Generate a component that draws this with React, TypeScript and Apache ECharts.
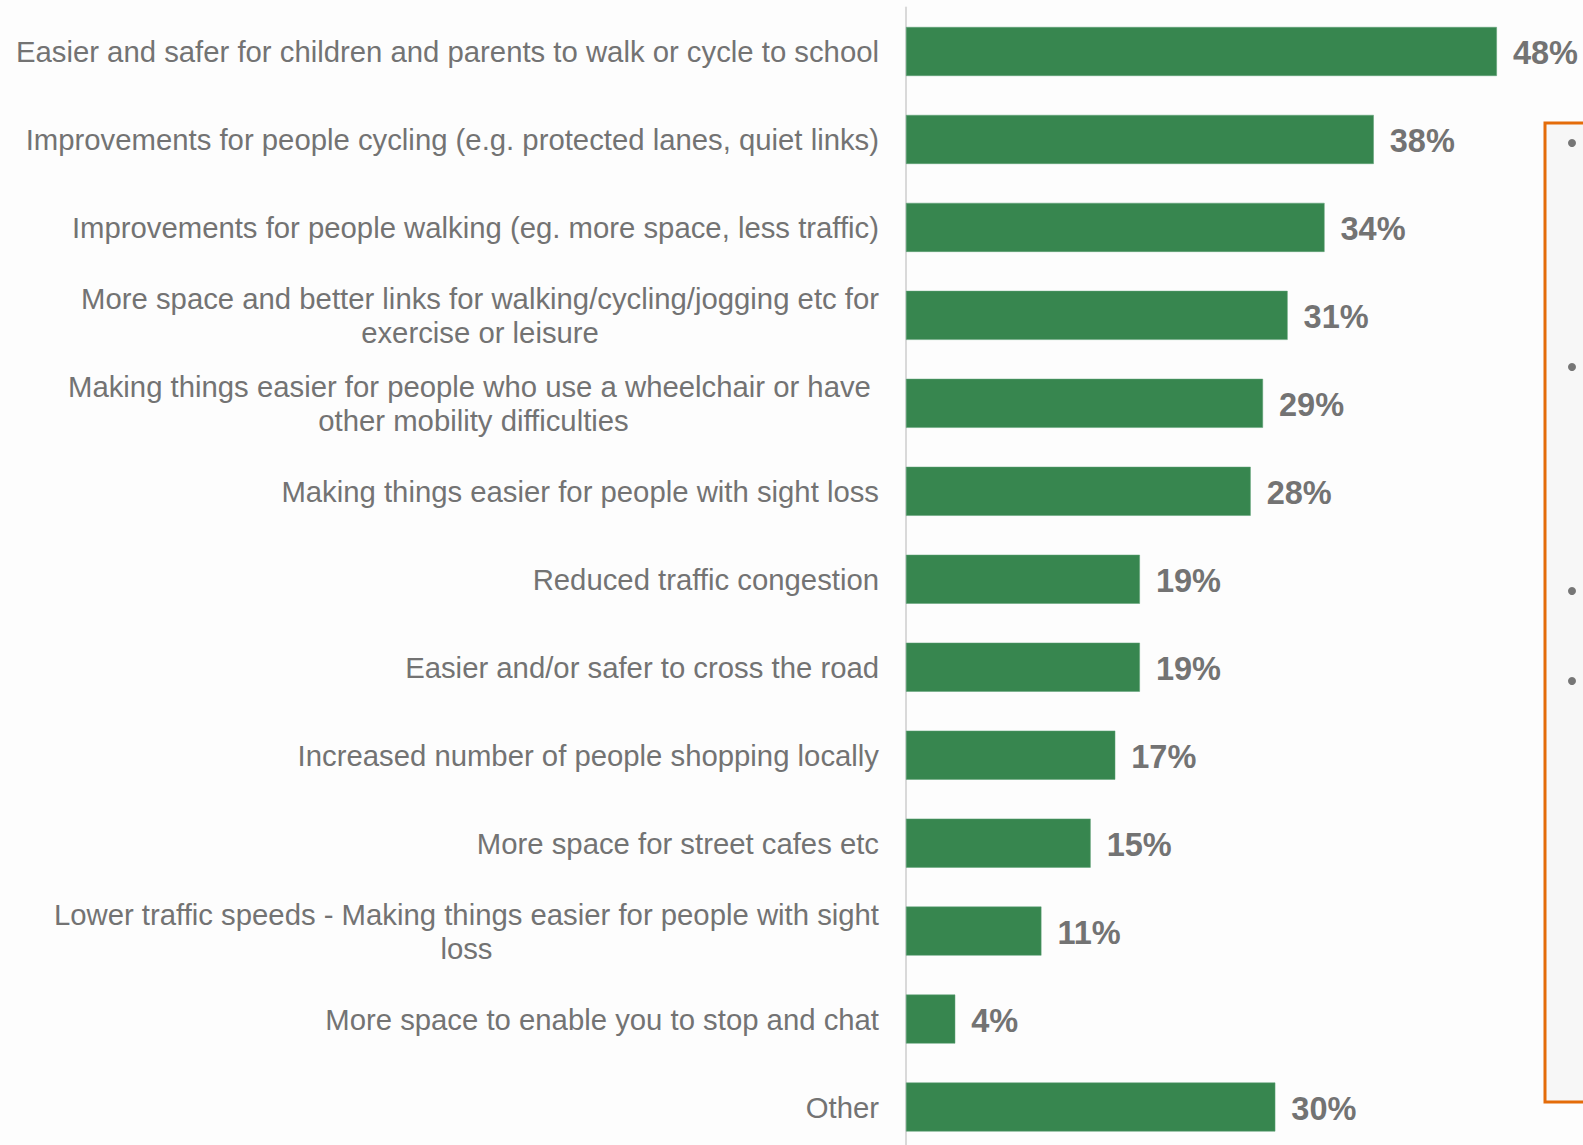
import React, { useEffect, useRef } from "react";
import * as echarts from "echarts";

const categories: string[] = [
  "Easier and safer for children and parents to walk or cycle to school",
  "Improvements for people cycling (e.g. protected lanes, quiet links)",
  "Improvements for people walking (eg. more space, less traffic)",
  "More space and better links for walking/cycling/jogging etc for\nexercise or leisure",
  "Making things easier for people who use a wheelchair or have \nother mobility difficulties",
  "Making things easier for people with sight loss",
  "Reduced traffic congestion",
  "Easier and/or safer to cross the road",
  "Increased number of people shopping locally",
  "More space for street cafes etc",
  "Lower traffic speeds - Making things easier for people with sight\nloss",
  "More space to enable you to stop and chat",
  "Other",
];

const values: number[] = [48, 38, 34, 31, 29, 28, 19, 19, 17, 15, 11, 4, 30];

const bulletYs: number[] = [143, 367, 591, 681];

export default function App() {
  const ref = useRef<HTMLDivElement>(null);
  useEffect(() => {
    if (!ref.current) return;
    const chart = echarts.init(ref.current, undefined, { renderer: "svg" });
    const font = "'Liberation Sans', Arial, sans-serif";
    chart.setOption({
      animation: false,
      backgroundColor: "#fdfdfd",
      grid: { left: 906, right: 61.5, top: 7.5, bottom: 0, containLabel: false },
      xAxis: {
        type: "value",
        min: 0,
        max: 50,
        show: false,
        splitLine: { show: false },
      },
      yAxis: {
        type: "category",
        data: categories,
        inverse: true,
        axisTick: { show: false },
        axisLine: { show: true, lineStyle: { color: "#d9d9d9", width: 2 } },
        axisLabel: {
          interval: 0,
          margin: 27,
          align: "right",
          formatter: (v: string) =>
            v
              .split("\n")
              .map((l) => `{c|${l}}`)
              .join("\n"),
          rich: {
            c: {
              align: "center",
              fontFamily: font,
              fontSize: 29.3,
              lineHeight: 34,
              color: "#737373",
            },
          },
        },
      },
      series: [
        {
          type: "bar",
          data: values,
          barWidth: 49,
          itemStyle: { color: "#37864f", borderColor: "#5fa077", borderWidth: 0.5 },
          label: {
            show: true,
            position: "right",
            distance: 16,
            offset: [0, 2],
            formatter: "{c}%",
            fontFamily: font,
            fontWeight: "bold",
            fontSize: 32.5,
            color: "#737373",
          },
        },
      ],
      graphic: [
        {
          type: "rect",
          shape: { x: 1545, y: 123, width: 60, height: 979 },
          style: { fill: "#f7f7f7", stroke: "#e46c0a", lineWidth: 3 },
          silent: true,
        },
        ...bulletYs.map((y) => ({
          type: "circle",
          shape: { cx: 1572, cy: y, r: 4 },
          style: { fill: "#767676" },
          silent: true,
        })),
      ],
    });
    return () => chart.dispose();
  }, []);
  return (
    <div
      ref={ref}
      style={{ position: "fixed", left: 0, top: 0, width: 1583, height: 1151 }}
    />
  );
}
